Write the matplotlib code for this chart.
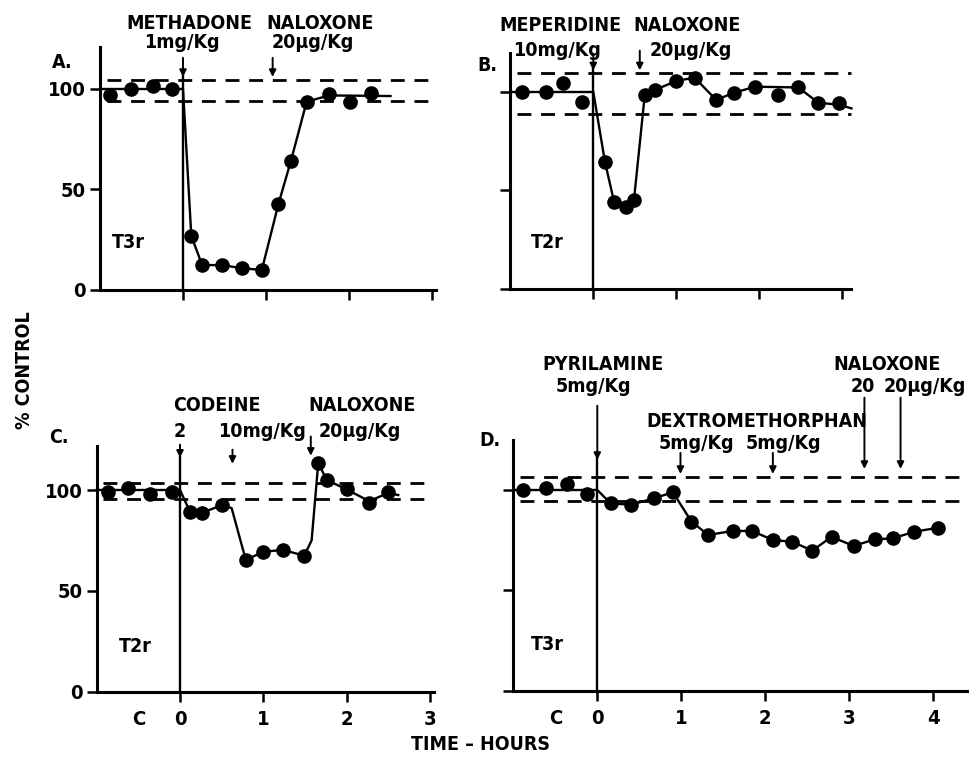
import matplotlib
matplotlib.use('Agg')
import matplotlib.pyplot as plt

plt.rcParams['font.family'] = ['DejaVu Sans']
plt.rcParams['font.stretch'] = 'condensed'
plt.rcParams['font.weight'] = 'bold'

W, H = 971, 759

# ---------------- data (hours, % control) ----------------
A_pts_x = [-0.88, -0.63, -0.36, -0.13, 0.10, 0.23, 0.47, 0.71, 0.95, 1.15, 1.30, 1.49, 1.76, 2.01, 2.26]
A_pts_y = [97, 100, 101.5, 100, 27, 12.4, 12.4, 10.8, 10, 42.8, 64.2, 93.7, 97.3, 93.4, 98.2]
A_curve_x = [-1.0, 0.0, 0.10, 0.23, 0.47, 0.71, 0.95, 1.15, 1.30, 1.49, 1.76, 2.50]
A_curve_y = [100, 100, 27, 12.4, 12.4, 10.8, 10, 42.8, 64.2, 93.7, 96.8, 96.5]
A_band = [104.3, 94.0]

B_pts_x = [-0.86, -0.57, -0.37, -0.14, 0.14, 0.25, 0.39, 0.49, 0.62, 0.74, 1.00, 1.22, 1.48, 1.70, 1.95, 2.22, 2.47, 2.71, 2.96]
B_pts_y = [100, 100, 104.7, 95, 64.6, 44.3, 41.8, 45.2, 98.5, 101, 105.6, 107.3, 96, 99.7, 102.7, 98.5, 102.3, 94.6, 94.3]
B_curve_x = [-1.0, 0.0, 0.14, 0.25, 0.39, 0.49, 0.62, 0.74, 1.00, 1.22, 1.48, 1.70, 1.95, 2.47, 2.71, 2.96, 3.11]
B_curve_y = [100, 100, 64.6, 44.3, 41.8, 45.2, 98.5, 101, 105.6, 107.3, 96, 99.7, 102.7, 102.3, 94.6, 93.5, 91.7]
B_band = [109.5, 89.0]

C_pts_x = [-0.86, -0.62, -0.36, -0.10, 0.12, 0.27, 0.51, 0.79, 1.00, 1.24, 1.49, 1.66, 1.76, 2.00, 2.27, 2.50]
C_pts_y = [99.2, 100.8, 98, 99.2, 89.2, 88.8, 92.6, 65.3, 69.4, 70.3, 67.4, 113.5, 105, 100.3, 93.7, 99.2]
C_curve_x = [-1.0, 0.0, 0.12, 0.27, 0.51, 0.62, 0.79, 1.00, 1.24, 1.49, 1.58, 1.66, 1.76, 2.00, 2.27, 2.50, 2.62]
C_curve_y = [100, 100, 89.2, 88.8, 92.6, 91, 65.3, 69.4, 70.3, 67.4, 75, 113.5, 105, 100.3, 94.5, 98.5, 97.5]
C_band = [103.6, 95.7]

D_pts_x = [-0.88, -0.61, -0.36, -0.12, 0.16, 0.40, 0.68, 0.90, 1.12, 1.32, 1.61, 1.84, 2.09, 2.32, 2.56, 2.79, 3.05, 3.30, 3.52, 3.77, 4.06]
D_pts_y = [100, 100.8, 103, 98, 93.3, 92.7, 95.9, 98.9, 84.3, 77.6, 79.6, 79.6, 75.1, 74.2, 69.8, 76.7, 72.1, 75.4, 75.9, 79.2, 81.2]
D_curve_x = [-1.0, 0.0, 0.16, 0.40, 0.68, 0.90, 1.12, 1.32, 1.61, 1.84, 2.09, 2.32, 2.56, 2.79, 3.05, 3.30, 3.52, 3.77, 4.06]
D_curve_y = [100, 100, 93.3, 92.7, 95.9, 98.9, 84.3, 77.6, 79.6, 79.6, 75.1, 74.2, 69.8, 76.7, 72.1, 75.4, 75.9, 79.2, 81.2]
D_band = [106.6, 94.7]

y_ticks = [0, 50, 100]
y_ticklabels = ['0', '50', '100']
x_ticks_3 = [-0.5, 0, 1, 2, 3]
x_ticks_4 = [-0.5, 0, 1, 2, 3, 4]
x_labels_3 = ['C', '0', '1', '2', '3']
x_labels_4 = ['C', '0', '1', '2', '3', '4']

fig = plt.figure(figsize=(W / 100, H / 100), dpi=100)

FS = 14
FS_TICK = 14.5
LW_AX = 2.2


def make_axes(x0px, xs, y0px, ys, xlim, ylim):
    left = x0px + xlim[0] * xs
    right = x0px + xlim[1] * xs
    top = y0px - ylim[1] * ys
    ax = fig.add_axes([left / W, 1 - y0px / H, (right - left) / W, (y0px - top) / H])
    ax.set_xlim(*xlim)
    ax.set_ylim(*ylim)
    for s in ['top', 'right']:
        ax.spines[s].set_visible(False)
    for s in ['left', 'bottom']:
        ax.spines[s].set_linewidth(LW_AX)
    ax.patch.set_alpha(0)
    return ax


def setup_ticks(ax, xt, xl, show_x, show_y):
    ax.set_yticks(y_ticks)
    ax.set_yticklabels(y_ticklabels if show_y else [''] * 3, fontsize=FS_TICK)
    ax.set_xticks(xt)
    ax.set_xticklabels(xl if show_x else [''] * len(xt), fontsize=FS_TICK)
    ax.tick_params(axis='both', direction='out', length=7, width=1.8, pad=3)
    ax.tick_params(axis='x', pad=6)
    ax.xaxis.get_major_ticks()[0].tick1line.set_visible(False)


def draw(ax, px, py, cx, cy, band, xend):
    ax.plot(cx, cy, color='black', lw=1.7, zorder=3, clip_on=False)
    ax.plot(px, py, 'o', color='black', ms=9.5, zorder=4, clip_on=False)
    for lvl in band:
        ax.plot([ax.get_xlim()[0] + 0.08, xend], [lvl, lvl], color='black', lw=2.0,
                dashes=(5, 3.5), zorder=2, clip_on=False)


def arrow(ax, x, y0, y1):
    ax.annotate('', xy=(x, y1), xytext=(x, y0), annotation_clip=False,
                arrowprops=dict(arrowstyle='-|>', color='black', lw=1.4,
                                mutation_scale=10, shrinkA=0, shrinkB=0))


def label(ax, x, y, s, fs=FS):
    ax.text(x, y, s, ha='center', va='center', fontsize=fs, clip_on=False)


# ---------------- Panel A ----------------
axA = make_axes(183, 83, 290, 2.01, (-1.0, 3.05), (0, 121))
setup_ticks(axA, x_ticks_3, x_labels_3, False, True)
axA.plot([0, 0], [0, 107], color='black', lw=1.7)
draw(axA, A_pts_x, A_pts_y, A_curve_x, A_curve_y, A_band, 3.04)
arrow(axA, 0, 115.5, 106)
arrow(axA, 1.08, 115.5, 106)
label(axA, 0.08, 132.8, 'METHADONE')
label(axA, -0.01, 122.9, '1mg/Kg')
label(axA, 1.65, 132.8, 'NALOXONE')
label(axA, 1.57, 122.9, '20\u00b5g/Kg')
label(axA, -1.45, 113.4, 'A.')
label(axA, -0.66, 23.4, 'T3r')

# ---------------- Panel B ----------------
axB = make_axes(593.3, 83, 289, 1.97, (-1.0, 3.1), (0, 120))
setup_ticks(axB, x_ticks_3, x_labels_3, False, False)
axB.plot([0, 0], [0, 112], color='black', lw=1.7)
draw(axB, B_pts_x, B_pts_y, B_curve_x, B_curve_y, B_band, 3.11)
arrow(axB, 0, 119.5, 111)
arrow(axB, 0.56, 121, 111)
label(axB, -0.40, 134, 'MEPERIDINE')
label(axB, -0.44, 121.3, '10mg/Kg')
label(axB, 1.13, 134, 'NALOXONE')
label(axB, 1.17, 121.3, '20\u00b5g/Kg')
label(axB, -1.28, 113.7, 'B.')
label(axB, -0.55, 23.4, 'T2r')

# ---------------- Panel C ----------------
axC = make_axes(180, 83.3, 691.7, 2.017, (-1.0, 3.05), (0, 122))
setup_ticks(axC, x_ticks_3, x_labels_3, True, True)
axC.plot([0, 0], [0, 116.4], color='black', lw=1.7)
draw(axC, C_pts_x, C_pts_y, C_curve_x, C_curve_y, C_band, 3.0)
arrow(axC, 0, 122.5, 116)
arrow(axC, 0.63, 120, 113)
arrow(axC, 1.57, 126.5, 117)
label(axC, 0.44, 142.1, 'CODEINE')
label(axC, 0.0, 128.9, '2')
label(axC, 0.98, 128.9, '10mg/Kg')
label(axC, 2.18, 142.1, 'NALOXONE')
label(axC, 2.16, 128.9, '20\u00b5g/Kg')
label(axC, -1.46, 125.8, 'C.')
label(axC, -0.54, 22.2, 'T2r')

# ---------------- Panel D ----------------
axD = make_axes(597.3, 84, 690.7, 2.007, (-1.0, 4.4), (0, 125))
setup_ticks(axD, x_ticks_4, x_labels_4, True, False)
axD.plot([0, 0], [0, 116], color='black', lw=1.7)
draw(axD, D_pts_x, D_pts_y, D_curve_x, D_curve_y, D_band, 4.35)
arrow(axD, 0, 142, 115)
arrow(axD, 0.99, 118.5, 108)
arrow(axD, 2.09, 118.5, 108)
arrow(axD, 3.18, 146, 110.5)
arrow(axD, 3.61, 146, 110.5)
label(axD, 0.07, 162.3, 'PYRILAMINE')
label(axD, -0.05, 151.5, '5mg/Kg')
label(axD, 1.90, 134, 'DEXTROMETHORPHAN')
label(axD, 1.18, 123.3, '5mg/Kg')
label(axD, 2.22, 123.3, '5mg/Kg')
label(axD, 3.45, 162.3, 'NALOXONE')
label(axD, 3.16, 151.5, '20')
label(axD, 3.90, 151.5, '20\u00b5g/Kg')
label(axD, -1.28, 124.9, 'D.')
label(axD, -0.60, 22.8, 'T3r')

fig.text(480 / W, 1 - 745 / H, 'TIME \u2013 HOURS', ha='center', va='center', fontsize=FS)
fig.text(25 / W, 1 - 370 / H, '% CONTROL', ha='center', va='center', rotation=90, fontsize=FS)

fig.savefig('out.png', dpi=100)
